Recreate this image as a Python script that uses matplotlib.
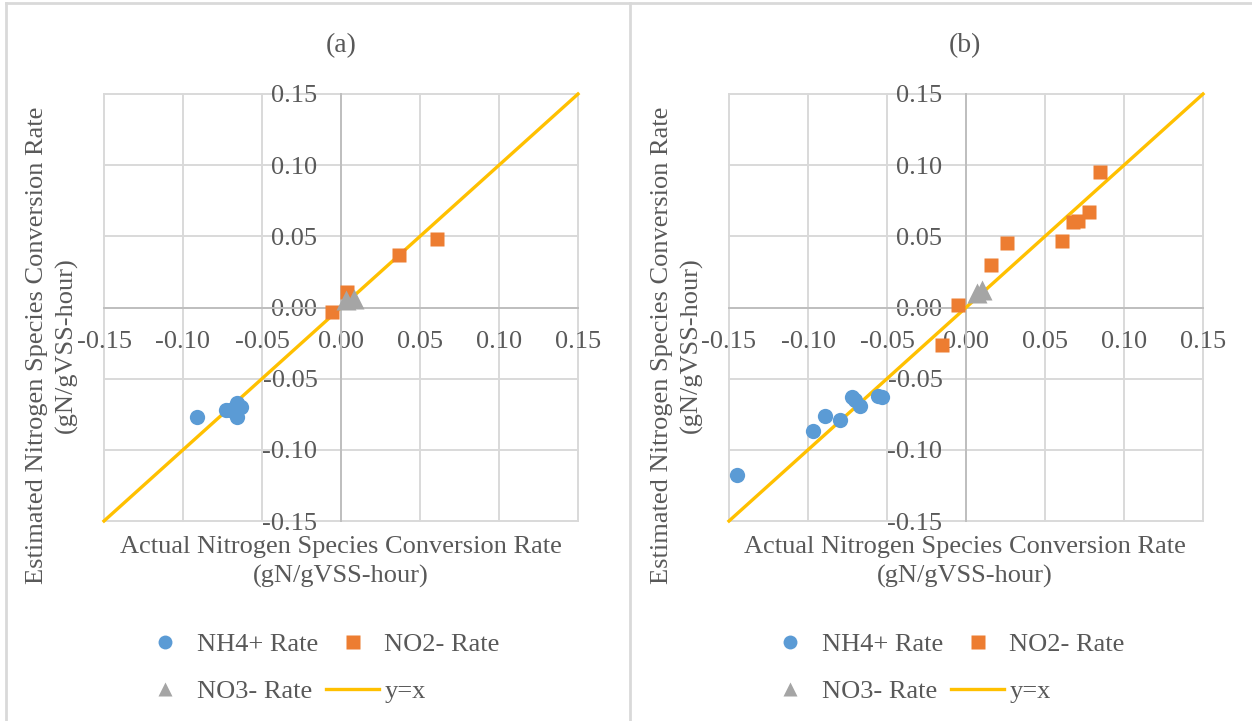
import numpy as np
import matplotlib
matplotlib.use("Agg")
import matplotlib.pyplot as plt
from matplotlib.ticker import FuncFormatter
from matplotlib.lines import Line2D

# valores (gN/gVSS-hour)
# panel (a)
a_nh4_x = [-0.091, -0.073, -0.066, -0.063, -0.066, -0.070]
a_nh4_y = [-0.077, -0.072, -0.067, -0.070, -0.077, -0.072]
a_no2_x = [-0.006, 0.004, 0.037, 0.061]
a_no2_y = [-0.003, 0.011, 0.037, 0.048]
a_no3_x = [0.003, 0.008]
a_no3_y = [0.005, 0.006]

# panel (b)
b_nh4_x = [-0.145, -0.097, -0.089, -0.080, -0.072, -0.070, -0.067, -0.056, -0.053]
b_nh4_y = [-0.118, -0.087, -0.076, -0.079, -0.063, -0.065, -0.069, -0.062, -0.063]
b_no2_x = [-0.015, -0.005, 0.016, 0.026, 0.061, 0.068, 0.071, 0.078, 0.085]
b_no2_y = [-0.026, 0.002, 0.030, 0.045, 0.047, 0.060, 0.061, 0.067, 0.095]
b_no3_x = [0.007, 0.010]
b_no3_y = [0.010, 0.012]

linea = [-0.15, 0.15]
ticks = [-0.15, -0.10, -0.05, 0.00, 0.05, 0.10, 0.15]

AZUL = '#5B9BD5'
NARANJA = '#ED7D31'
GRIS = '#A5A5A5'
ORO = '#FFC000'
TXT = '#595959'

plt.rcParams['font.family'] = ['Liberation Serif', 'DejaVu Serif']
plt.rcParams['axes.unicode_minus'] = False
FS = 19

fig = plt.figure(figsize=(12.52, 7.21), dpi=100)
W, H = 1252.0, 721.0


def panel(left_px, cx_px, titulo, nx, ny, n2x, n2y, n3x, n3y):
	ax = fig.add_axes([left_px / W, 1 - 521 / H, 474 / W, 427 / H])
	ax.set_xlim(-0.15, 0.15)
	ax.set_ylim(-0.15, 0.15)
	ax.set_xticks(ticks)
	ax.set_yticks(ticks)
	fmt = FuncFormatter(lambda v, p: '%.2f' % v if abs(v) > 1e-9 else '0.00')
	ax.xaxis.set_major_formatter(fmt)
	ax.yaxis.set_major_formatter(fmt)
	for s in ['top', 'right']:
		ax.spines[s].set_visible(False)
	ax.spines['left'].set_position('zero')
	ax.spines['bottom'].set_position('zero')
	for s in ['left', 'bottom']:
		ax.spines[s].set_color('#BFBFBF')
		ax.spines[s].set_linewidth(1.4)
		ax.spines[s].set_zorder(2)
	ax.tick_params(length=0, labelsize=FS, labelcolor=TXT)
	ax.tick_params(axis='x', pad=17)
	ax.tick_params(axis='y', pad=17)
	ax.grid(True, color='#D9D9D9', linewidth=1.4, zorder=0)
	ax.set_axisbelow(True)
	for g in ax.get_xgridlines() + ax.get_ygridlines():
		g.set_clip_on(False)

	ax.plot(linea, linea, color=ORO, lw=2.4, zorder=3, clip_on=False)
	ax.plot(nx, ny, 'o', color=AZUL, ms=11, mec='none', zorder=4)
	ax.plot(n2x, n2y, 's', color=NARANJA, ms=10.5, mec='none', zorder=4)
	ax.plot(n3x, n3y, '^', color=GRIS, ms=15, mec='none', zorder=5)

	fig.text(cx_px / W, 1 - 46 / H, titulo, ha='center', va='center', fontsize=FS + 1, color=TXT)
	fig.text(cx_px / W, 1 - 562 / H, 'Actual Nitrogen Species Conversion Rate\n(gN/gVSS-hour)',
		ha='center', va='center', fontsize=FS, color=TXT, linespacing=1.4)
	fig.text((left_px - 52) / W, 1 - 345 / H, 'Estimated Nitrogen Species Conversion Rate\n(gN/gVSS-hour)',
		ha='center', va='center', rotation=90, fontsize=FS, color=TXT, linespacing=1.4)

	h = [Line2D([], [], marker='o', ls='none', color=AZUL, ms=10, mec='none'),
		Line2D([], [], marker='^', ls='none', color=GRIS, ms=10, mec='none'),
		Line2D([], [], marker='s', ls='none', color=NARANJA, ms=10, mec='none'),
		Line2D([], [], color=ORO, lw=2.4)]
	etiquetas = ['NH4+ Rate', 'NO3- Rate', 'NO2- Rate', 'y=x']
	leg = fig.legend(h, etiquetas, ncol=2, loc='upper left', frameon=False,
		bbox_to_anchor=((left_px + 35) / W, 1 - 633 / H), fontsize=FS,
		handlelength=2.0, handletextpad=0.2, columnspacing=0.3, labelspacing=0.87,
		borderaxespad=0, borderpad=0)
	for t in leg.get_texts():
		t.set_color(TXT)
	return ax


panel(104, 341, '(a)', a_nh4_x, a_nh4_y, a_no2_x, a_no2_y, a_no3_x, a_no3_y)
panel(729, 965, '(b)', b_nh4_x, b_nh4_y, b_no2_x, b_no2_y, b_no3_x, b_no3_y)

# marcos de los paneles
borde = dict(color='#D9D9D9', lw=2, transform=fig.transFigure)
fig.add_artist(Line2D([6 / W, 1], [1 - 3 / H, 1 - 3 / H], **borde))
fig.add_artist(Line2D([6 / W, 6 / W], [0, 1 - 3 / H], **borde))
fig.add_artist(Line2D([630 / W, 630 / W], [0, 1 - 3 / H], **borde))

fig.savefig('out.png', dpi=100)
